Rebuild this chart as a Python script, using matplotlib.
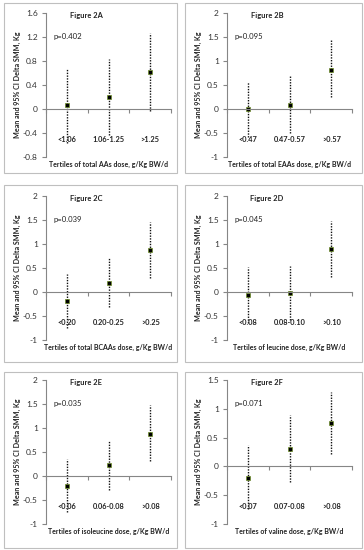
import numpy as np
import matplotlib
matplotlib.use("Agg")
import matplotlib.pyplot as plt
from matplotlib.patches import Rectangle

plt.rcParams['font.family'] = ['Lato', 'DejaVu Sans']

# ---- data ----
titles = ["Figure 2A", "Figure 2B", "Figure 2C", "Figure 2D", "Figure 2E", "Figure 2F"]
pvals = ["p=0.402", "p=0.095", "p=0.039", "p=0.045", "p=0.035", "p=0.071"]
xtitles = ["Tertiles of total AAs dose, g/Kg BW/d",
           "Tertiles of total EAAs dose, g/Kg BW/d",
           "Tertiles of total BCAAs dose, g/Kg BW/d",
           "Tertiles of leucine dose, g/Kg BW/d",
           "Tertiles of isoleucine dose, g/Kg BW/d",
           "Tertiles of valine dose, g/Kg BW/d"]
cats_a = ["<1.06", "1.06-1.25", ">1.25"]
cats_b = ["<0.47", "0.47-0.57", ">0.57"]
cats_c = ["<0.20", "0.20-0.25", ">0.25"]
cats_d = ["<0.08", "0.08-0.10", ">0.10"]
cats_e = ["<0.06", "0.06-0.08", ">0.08"]
cats_f = ["<0.07", "0.07-0.08", ">0.08"]

mean_a = [0.06, 0.20, 0.62]
upper_a = [0.69, 0.83, 1.27]
lower_a = [-0.57, -0.43, -0.03]

mean_b = [-0.01, 0.09, 0.82]
upper_b = [0.57, 0.68, 1.45]
lower_b = [-0.59, -0.50, 0.25]

mean_c = [-0.18, 0.19, 0.87]
upper_c = [0.38, 0.73, 1.46]
lower_c = [-0.74, -0.31, 0.30]

mean_d = [-0.06, -0.03, 0.89]
upper_d = [0.52, 0.55, 1.48]
lower_d = [-0.64, -0.58, 0.31]

mean_e = [-0.20, 0.23, 0.88]
upper_e = [0.35, 0.75, 1.47]
lower_e = [-0.75, -0.29, 0.31]

mean_f = [-0.20, 0.31, 0.75]
upper_f = [0.37, 0.90, 1.30]
lower_f = [-0.74, -0.27, 0.22]

yticks_a = [-0.8, -0.4, 0, 0.4, 0.8, 1.2, 1.6]
yticks_std = [-1, -0.5, 0, 0.5, 1, 1.5, 2]
yticks_f = [-1, -0.5, 0, 0.5, 1, 1.5]

cats = [cats_a, cats_b, cats_c, cats_d, cats_e, cats_f]
means = [mean_a, mean_b, mean_c, mean_d, mean_e, mean_f]
uppers = [upper_a, upper_b, upper_c, upper_d, upper_e, upper_f]
lowers = [lower_a, lower_b, lower_c, lower_d, lower_e, lower_f]
yticks = [yticks_a, yticks_std, yticks_std, yticks_std, yticks_std, yticks_f]

W, H = 364, 550
fig = plt.figure(figsize=(W / 100, H / 100), dpi=100)

# panel frames (pixels: x0, y0, x1, y1)
boxes = [(4, 3, 177, 173), (185, 3, 362, 173),
         (4, 185, 177, 362), (185, 185, 362, 362),
         (4, 372, 177, 548), (185, 372, 362, 548)]
cols = [(46, 171), (227, 352)]
rows = [(13, 157), (196, 340), (380, 524)]

def fmt(v):
    s = ("%.1f" % v).rstrip("0").rstrip(".")
    return "0" if s in ("0", "-0") else s

for i in range(6):
    x0, y0, x1, y1 = boxes[i]
    fig.patches.append(Rectangle((x0 / W, 1 - y1 / H), (x1 - x0) / W, (y1 - y0) / H,
                                 transform=fig.transFigure, fill=False,
                                 edgecolor="#bfbfbf", linewidth=0.8))
    l, r = cols[i % 2]
    t, b = rows[i // 2]
    ax = fig.add_axes([l / W, 1 - b / H, (r - l) / W, (b - t) / H])

    x = np.arange(1, 4)
    ax.vlines(x, lowers[i], uppers[i], colors="#111111", linestyles=(0, (1, 1)), linewidth=1.0)
    ax.plot(x, means[i], linestyle="none", marker="s", markersize=3.4,
            markerfacecolor="black", markeredgecolor="#6f8f28", markeredgewidth=0.5)

    yt = yticks[i]
    ax.set_ylim(yt[0], yt[-1])
    ax.set_yticks(yt)
    ax.set_yticklabels([fmt(v) for v in yt])
    ax.set_xlim(0.5, 3.5)
    ax.set_xticks([0.5, 1.5, 2.5, 3.5])
    ax.set_xticklabels([])

    for s in ["top", "right"]:
        ax.spines[s].set_visible(False)
    ax.spines["bottom"].set_position(("data", 0))
    for s in ["left", "bottom"]:
        ax.spines[s].set_color("#868686")
        ax.spines[s].set_linewidth(0.8)
    ax.tick_params(axis="both", direction="out", length=3, width=0.8, color="#868686",
                   labelsize=6, labelcolor="#333333", pad=3)

    for k, lab in enumerate(cats[i]):
        ax.text(x[k], 0.12, lab, transform=ax.get_xaxis_transform(), ha="center",
                va="center", fontsize=5.3, fontweight="bold", color="#222222")

    ax.text(0.32, 0.985, titles[i], transform=ax.transAxes, ha="center", va="center",
            fontsize=5.4, fontweight="bold", color="#222222")
    ax.text(0.06, 0.835, pvals[i], transform=ax.transAxes, ha="left", va="center",
            fontsize=5.6, color="#222222")
    ax.text(0.5, -0.05, xtitles[i], transform=ax.transAxes, ha="center", va="center",
            fontsize=5.0, fontweight="bold", color="#222222")
    ax.set_ylabel("Mean and 95% CI Delta SMM, Kg", fontsize=5.1, fontweight="bold",
                  color="#222222")
    ax.yaxis.set_label_coords(-0.2, 0.5)

fig.savefig("out.png", dpi=100)
